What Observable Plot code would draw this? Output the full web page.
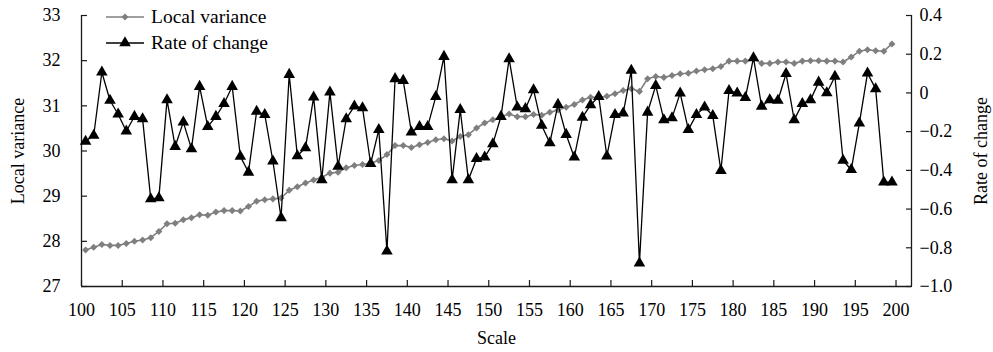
<!DOCTYPE html>
<html>
<head>
<meta charset="utf-8">
<script src="https://cdn.jsdelivr.net/npm/d3@7"></script>
<script src="https://cdn.jsdelivr.net/npm/@observablehq/plot@0.6"></script>
<style>
  html, body { margin: 0; padding: 0; background: #fff; }
  #wrap { position: relative; width: 993px; height: 352px; font-family: "Liberation Serif", "Times New Roman", serif; }
  #legend { position: absolute; left: 104px; top: 4px; font-size: 19.5px; line-height: 26px; color: #000; }
  #legend .row { display: flex; align-items: center; height: 26px; white-space: nowrap; }
  #legend svg { margin-right: 7px; }
</style>
</head>
<body>
<div id="wrap">
  <div id="chart"></div>
  <div id="legend"></div>
</div>
<script>
// ---- data ----
const scaleValues = d3.range(100.5, 200.5, 1); // 100 scale categories

const localVariance = [
  27.81, 27.87, 27.93, 27.91, 27.91, 27.95, 28.00, 28.03, 28.08, 28.22,
  28.39, 28.40, 28.48, 28.52, 28.59, 28.58, 28.65, 28.68, 28.68, 28.67,
  28.77, 28.89, 28.92, 28.94, 28.96, 29.13, 29.21, 29.29, 29.36, 29.42,
  29.51, 29.53, 29.63, 29.68, 29.70, 29.73, 29.79, 29.92, 30.12, 30.12,
  30.08, 30.14, 30.19, 30.25, 30.27, 30.22, 30.32, 30.36, 30.51, 30.62,
  30.69, 30.76, 30.82, 30.76, 30.76, 30.81, 30.79, 30.86, 30.91, 30.97,
  31.03, 31.13, 31.19, 31.19, 31.21, 31.27, 31.34, 31.38, 31.32, 31.60,
  31.65, 31.63, 31.67, 31.71, 31.72, 31.77, 31.80, 31.82, 31.87, 31.99,
  31.99, 31.99, 32.04, 31.94, 31.94, 31.97, 31.97, 31.94, 31.99, 32.00,
  32.00, 31.99, 31.99, 31.97, 32.08, 32.21, 32.24, 32.22, 32.21, 32.37
];

const rateOfChange = [
  -0.250, -0.220, 0.107, -0.039, -0.110, -0.198, -0.122, -0.134, -0.547, -0.542,
  -0.036, -0.277, -0.151, -0.289, 0.033, -0.174, -0.122, -0.056, 0.033, -0.328,
  -0.410, -0.096, -0.112, -0.353, -0.645, 0.095, -0.325, -0.284, -0.022, -0.449,
  0.004, -0.380, -0.134, -0.068, -0.077, -0.366, -0.190, -0.818, 0.073, 0.064,
  -0.203, -0.174, -0.174, -0.019, 0.188, -0.449, -0.087, -0.449, -0.340, -0.332,
  -0.263, -0.122, 0.176, -0.074, -0.082, 0.016, -0.168, -0.258, -0.060, -0.215,
  -0.332, -0.126, -0.062, -0.019, -0.327, -0.112, -0.105, 0.116, -0.880, -0.100,
  0.038, -0.139, -0.129, -0.001, -0.190, -0.112, -0.074, -0.117, -0.401, 0.012,
  -0.001, -0.025, 0.181, -0.069, -0.036, -0.039, 0.099, -0.139, -0.056, -0.036,
  0.055, 0.000, 0.085, -0.349, -0.397, -0.156, 0.102, 0.021, -0.461, -0.461
];

const xTicks = [100, 105, 110, 115, 120, 125, 130, 135, 140, 145, 150, 155, 160, 165, 170, 175, 180, 185, 190, 195, 200];
const varianceTicks = [27, 28, 29, 30, 31, 32, 33];
const rateTicks = [-1.0, -0.8, -0.6, -0.4, -0.2, 0, 0.2, 0.4];
const rateTickLabels = ["\u22121.0", "\u22120.8", "\u22120.6", "\u22120.4", "\u22120.2", "0", "0.2", "0.4"];

const xDomain = [100, 201.9];
const varianceDomain = [27, 33];
const rateDomain = [-1.0, 0.4];

const seriesNames = ["Local variance", "Rate of change"];
const grayColor = "#7f7f7f";
const blackColor = "#000000";

// ---- helpers ----
const toLeft = r => varianceDomain[0] + (r - rateDomain[0]) * (varianceDomain[1] - varianceDomain[0]) / (rateDomain[1] - rateDomain[0]);
const rateTicksLeft = rateTicks.map(toLeft);
const rateLabelFor = v => {
  let best = 0;
  rateTicksLeft.forEach((t, i) => { if (Math.abs(t - v) < Math.abs(rateTicksLeft[best] - v)) best = i; });
  return rateTickLabels[best];
};

const data = scaleValues.map((s, i) => ({scale: s, variance: localVariance[i], rate: rateOfChange[i], rateLeft: toLeft(rateOfChange[i])}));

const axisColor = "#1a1a1a";

const chart = Plot.plot({
  width: 993,
  height: 352,
  marginLeft: 81,
  marginRight: 82,
  marginTop: 15,
  marginBottom: 66,
  x: {domain: xDomain},
  y: {domain: varianceDomain},
  style: {fontFamily: '"Liberation Serif", "Times New Roman", serif', fontSize: "18px", color: "#000", background: "#fff"},
  marks: [
    Plot.axisX(xTicks, {tickSize: -6, tickPadding: 23, tickFormat: d => String(d), stroke: axisColor, strokeWidth: 1.2,
      label: "Scale", labelAnchor: "center", labelOffset: 57, labelArrow: "none"}),
    Plot.axisY(varianceTicks, {anchor: "left", tickSize: -6, tickPadding: 27, tickFormat: d => String(d), stroke: axisColor, strokeWidth: 1.2,
      label: "Local variance", labelAnchor: "center", labelOffset: 70, labelArrow: "none"}),
    Plot.axisY(rateTicksLeft, {anchor: "right", tickSize: -6, tickPadding: 14, tickFormat: rateLabelFor, stroke: axisColor, strokeWidth: 1.2,
      label: "Rate of change", labelAnchor: "center", labelOffset: 75, labelArrow: "none"}),
    Plot.ruleX([xDomain[0], xDomain[1]], {stroke: axisColor, strokeWidth: 1.3}),
    Plot.ruleY([varianceDomain[0]], {stroke: axisColor, strokeWidth: 1.3}),
    Plot.line(data, {x: "scale", y: "variance", stroke: grayColor, strokeWidth: 1.6}),
    Plot.dot(data, {x: "scale", y: "variance", symbol: "square", r: 2.8, rotate: 45, fill: grayColor}),
    Plot.line(data, {x: "scale", y: "rateLeft", stroke: blackColor, strokeWidth: 1.3}),
    Plot.dot(data, {x: "scale", y: "rateLeft", symbol: "triangle", r: 4.3, fill: blackColor})
  ]
});
document.getElementById("chart").appendChild(chart);

// ---- legend ----
const legend = document.getElementById("legend");
const legendSpecs = [
  {name: seriesNames[0], color: grayColor, marker: "diamond"},
  {name: seriesNames[1], color: blackColor, marker: "triangle"}
];
legendSpecs.forEach(spec => {
  const row = document.createElement("div");
  row.className = "row";
  const ns = "http://www.w3.org/2000/svg";
  const svg = document.createElementNS(ns, "svg");
  svg.setAttribute("width", "40");
  svg.setAttribute("height", "16");
  const line = document.createElementNS(ns, "line");
  line.setAttribute("x1", "2"); line.setAttribute("x2", "40");
  line.setAttribute("y1", "8"); line.setAttribute("y2", "8");
  line.setAttribute("stroke", spec.color);
  line.setAttribute("stroke-width", spec.marker === "diamond" ? "1.6" : "1.3");
  svg.appendChild(line);
  const p = document.createElementNS(ns, "path");
  if (spec.marker === "diamond") {
    p.setAttribute("d", d3.symbol(d3.symbolSquare, 2.8 * 2.8 * Math.PI)());
    p.setAttribute("transform", "translate(21,8) rotate(45)");
  } else {
    p.setAttribute("d", d3.symbol(d3.symbolTriangle, 4.3 * 4.3 * Math.PI)());
    p.setAttribute("transform", "translate(21,8)");
  }
  p.setAttribute("fill", spec.color);
  svg.appendChild(p);
  row.appendChild(svg);
  const span = document.createElement("span");
  span.textContent = spec.name;
  row.appendChild(span);
  legend.appendChild(row);
});
</script>
</body>
</html>
